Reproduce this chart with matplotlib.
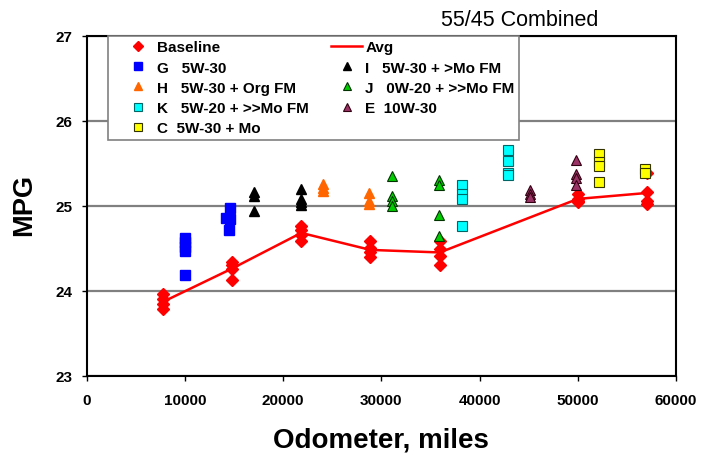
import matplotlib
matplotlib.use("Agg")
import matplotlib.pyplot as plt
from matplotlib.lines import Line2D
from matplotlib.legend_handler import HandlerLine2D

plt.rcParams['font.family'] = ['Liberation Sans', 'DejaVu Sans']

# Baseline runs
base_x = [7800, 7800, 7800, 7800,
          14800, 14800, 14800, 14800,
          21850, 21850, 21850, 21850,
          28900, 28900, 28900, 28900,
          35950, 35950, 35950, 35950,
          50000, 50000, 50000, 50000,
          57050, 57050, 57050, 57050]
base_y = [23.96, 23.90, 23.84, 23.78,
          24.34, 24.30, 24.26, 24.13,
          24.76, 24.71, 24.65, 24.59,
          24.59, 24.50, 24.45, 24.40,
          24.59, 24.49, 24.41, 24.30,
          25.14, 25.08, 25.05, 25.04,
          25.38, 25.16, 25.06, 25.02]

avg_x = [7800, 14800, 21850, 28900, 35950, 50000, 57050]
avg_y = [23.87, 24.26, 24.68, 24.48, 24.45, 25.08, 25.15]

# G 5W-30
g_x = [10000, 10000, 10000, 10000, 10000, 14600, 14200, 14600, 14500]
g_y = [24.62, 24.57, 24.52, 24.47, 24.19, 24.97, 24.86, 24.84, 24.71]
# H 5W-30 + Org FM
h_x = [24100, 24100, 24100, 28750, 28750, 28750]
h_y = [25.25, 25.21, 25.17, 25.15, 25.06, 25.02]
# I 5W-30 + >Mo FM
i_x = [17000, 17000, 17000, 21800, 21800, 21800, 21800]
i_y = [25.16, 25.12, 24.94, 25.20, 25.08, 25.04, 25.01]
# J 0W-20 + >>Mo FM
j_x = [31100, 31100, 31100, 31100, 35850, 35850, 35850, 35850]
j_y = [25.35, 25.12, 25.06, 25.00, 25.30, 25.24, 24.89, 24.64]
# K 5W-20 + >>Mo FM
k_x = [38200, 38200, 38200, 38200, 42900, 42900, 42900, 42900]
k_y = [25.24, 25.14, 25.08, 24.76, 25.65, 25.53, 25.39, 25.36]
# E 10W-30
e_x = [45100, 45100, 45100, 49800, 49800, 49800, 49800]
e_y = [25.18, 25.14, 25.10, 25.54, 25.37, 25.33, 25.24]
# C 5W-30 + Mo
c_x = [52150, 52150, 52150, 52150, 56800, 56850]
c_y = [25.61, 25.51, 25.47, 25.28, 25.43, 25.38]

fig = plt.figure(figsize=(7.01, 4.56), dpi=100)
ax = fig.add_axes([0.1234, 0.1739, 0.841, 0.7456])

ax.plot(base_x, base_y, ls='none', marker='D', ms=6.5, color='#FF0000',
        mec='#FF0000', label='Baseline', zorder=3)
ax.plot(g_x, g_y, ls='none', marker='s', ms=7, color='#0000FF',
        mec='#0000FF', label='G   5W-30', zorder=4)
ax.plot(h_x, h_y, ls='none', marker='^', ms=7.5, color='#FF6600',
        mec='#FF6600', label='H   5W-30 + Org FM', zorder=4)
ax.plot(k_x, k_y, ls='none', marker='s', ms=7, color='#00FFFF',
        mec='#006666', mew=0.8, label='K   5W-20 + >>Mo FM', zorder=4)
ax.plot(c_x, c_y, ls='none', marker='s', ms=7, color='#FFFF00',
        mec='#333300', mew=0.8, label='C  5W-30 + Mo', zorder=4)
ax.plot(avg_x, avg_y, color='#FF0000', lw=1.8, label='Avg', zorder=3)
ax.plot(i_x, i_y, ls='none', marker='^', ms=7.5, color='#000000',
        label='I   5W-30 + >Mo FM', zorder=4)
ax.plot(j_x, j_y, ls='none', marker='^', ms=7.5, color='#00CC00',
        mec='#003300', mew=0.8, label='J   0W-20 + >>Mo FM', zorder=4)
ax.plot(e_x, e_y, ls='none', marker='^', ms=7.5, color='#993366',
        mec='#330011', mew=0.8, label='E  10W-30', zorder=4)

ax.set_xlim(0, 60000)
ax.set_ylim(23, 27)
ax.set_xticks(range(0, 60001, 10000))
ax.set_yticks([23, 24, 25, 26, 27])
ax.yaxis.grid(True, color='#808080', lw=1.6)
ax.set_axisbelow(True)
for s in ax.spines.values():
    s.set_color('black')
    s.set_linewidth(1.5)
ax.tick_params(direction='out', length=3.6, width=1, colors='black',
               labelsize=11)
ax.tick_params(axis='x', pad=9)
ax.tick_params(axis='y', pad=6.8)
for lab in ax.get_xticklabels() + ax.get_yticklabels():
    lab.set_fontweight('bold')

fig.text(381 / 701, 1 - 448 / 456, 'Odometer, miles', fontsize=20,
         fontweight='bold', ha='center', va='baseline')
fig.text(24 / 701, 1 - 205 / 456, 'MPG', fontsize=19.5, fontweight='bold',
         rotation=90, ha='center', va='center')
fig.text(520 / 701, 1 - 20 / 456, '55/45 Combined', fontsize=15.5,
         ha='center', va='center')

leg = ax.legend(loc='upper left', bbox_to_anchor=(0.037, 1.0), ncol=2,
                borderaxespad=0, fancybox=False, framealpha=1,
                edgecolor='#808080', markerscale=0.8,
                labelspacing=0.41, columnspacing=0.88, handlelength=2.64,
                handletextpad=0.22, borderpad=0.3,
                handler_map={Line2D: HandlerLine2D(xpad=0.615)},
                prop={'weight': 'bold', 'size': 11})
leg.get_frame().set_linewidth(1.2)
leg.set_zorder(5)

fig.savefig('out.png', dpi=100)
